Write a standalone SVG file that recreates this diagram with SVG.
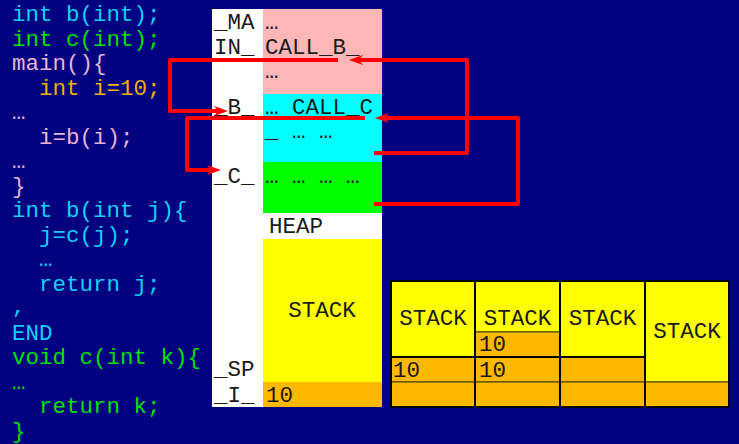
<svg xmlns="http://www.w3.org/2000/svg" width="739" height="444" viewBox="0 0 739 444">
<defs>
<style>
.code{font-family:"Liberation Mono","Courier New",monospace;font-size:22.5px}
.cy{fill:#10D0F8}.gr{fill:#00E000}.pk{fill:#E8B4D4}.or{fill:#F0B000}
.mem{font-family:"Liberation Mono","Courier New",monospace;font-size:22.5px;fill:#1a1a1a}
.conn{fill:none;stroke:#FF0000;stroke-width:4;stroke-linejoin:round;marker-end:url(#ah)}
.cell{stroke:#3a3a10;stroke-width:1}
.yl{fill:#FFFF00}.og{fill:#FFB800}
.grid{stroke:#000;stroke-width:2;fill:none}
</style>
<marker id="ah" viewBox="0 0 14 10" refX="4" refY="5" markerWidth="14" markerHeight="10" markerUnits="userSpaceOnUse" orient="auto">
<path d="M0,0 L14,5 L0,10 L4,5 z" fill="#FF0000"/>
</marker>
</defs>
<rect x="0" y="0" width="739" height="444" fill="#000080"/>

<g id="code" class="code">
<text x="12" y="21" class="cy">int b(int);</text>
<text x="12" y="45.5" class="gr">int c(int);</text>
<text x="12" y="70" class="pk">main(){</text>
<text x="39" y="94.5" class="or">int i=10;</text>
<text x="12" y="119" class="pk">…</text>
<text x="39" y="143.5" class="pk">i=b(i);</text>
<text x="12" y="168" class="pk">…</text>
<text x="12" y="192.5" class="pk">}</text>
<text x="12" y="217" class="cy">int b(int j){</text>
<text x="39" y="241.5" class="cy">j=c(j);</text>
<text x="39" y="266" class="cy">…</text>
<text x="39" y="290.5" class="cy">return j;</text>
<text x="12" y="313" class="cy">,</text>
<text x="12" y="339.5" class="cy">END</text>
<text x="12" y="364" class="gr">void c(int k){</text>
<text x="12" y="388.5" class="gr">…</text>
<text x="39" y="413" class="gr">return k;</text>
<text x="12" y="437.5" class="gr">}</text>
</g>

<g id="memory">
<rect x="212" y="9" width="170" height="398" fill="#FFFFFF"/>
<g id="main-seg">
<rect x="263" y="9" width="119" height="85" fill="#FFB6B6"/>
<text class="mem" x="214" y="29">_MA</text>
<text class="mem" x="214" y="53.5">IN_</text>
<text class="mem" x="265" y="29">…</text>
<text class="mem" x="265" y="53.5">CALL_B_</text>
<text class="mem" x="265" y="78">…</text>
</g>
<g id="b-seg">
<rect x="263" y="94" width="119" height="68" fill="#00FFFF"/>
<text class="mem" x="214" y="114">_B_</text>
<text class="mem" x="265" y="114">… CALL_C</text>
<text class="mem" x="265" y="138">_ … …</text>
</g>
<g id="c-seg">
<rect x="263" y="162" width="119" height="51" fill="#00FF00"/>
<text class="mem" x="214" y="183">_C_</text>
<text class="mem" x="265" y="183">… … … …</text>
</g>
<g id="heap">
<text class="mem" x="269" y="233">HEAP</text>
</g>
<g id="stack">
<rect x="263" y="239" width="119" height="143" fill="#FFFF00"/>
<text class="mem" x="322" y="317" text-anchor="middle">STACK</text>
<text class="mem" x="214" y="376">_SP</text>
</g>
<g id="i-var">
<rect x="263" y="382" width="119" height="25" fill="#FFB800"/>
<text class="mem" x="214" y="402">_I_</text>
<text class="mem" x="266" y="402">10</text>
</g>
</g>

<g id="connectors">
<path class="conn" d="M338 60 H170 V111 H218"/>
<path class="conn" d="M365 118 H187 V170 H211"/>
<path class="conn" d="M374 153 H467 V60 H359"/>
<path class="conn" d="M374 204 H518 V118 H385"/>
</g>

<g id="stack-states">
<g id="state1">
<rect class="cell yl" x="391" y="281" width="84" height="76"/>
<rect class="cell og" x="391" y="357" width="84" height="25"/>
<rect class="cell og" x="391" y="382" width="84" height="25"/>
<text class="mem" x="433" y="325" text-anchor="middle">STACK</text>
<text class="mem" x="393" y="377">10</text>
</g>
<g id="state2">
<rect class="cell yl" x="475" y="281" width="85" height="51"/>
<rect class="cell og" x="475" y="332" width="85" height="25"/>
<rect class="cell og" x="475" y="357" width="85" height="25"/>
<rect class="cell og" x="475" y="382" width="85" height="25"/>
<text class="mem" x="517.5" y="325" text-anchor="middle">STACK</text>
<text class="mem" x="479" y="351">10</text>
<text class="mem" x="479" y="377">10</text>
</g>
<g id="state3">
<rect class="cell yl" x="560" y="281" width="85" height="76"/>
<rect class="cell og" x="560" y="357" width="85" height="25"/>
<rect class="cell og" x="560" y="382" width="85" height="25"/>
<text class="mem" x="602.5" y="325" text-anchor="middle">STACK</text>
</g>
<g id="state4">
<rect class="cell yl" x="645" y="281" width="84" height="101"/>
<rect class="cell og" x="645" y="382" width="84" height="25"/>
<text class="mem" x="687" y="338" text-anchor="middle">STACK</text>
</g>
<path class="grid" d="M391 281 H729 V407 H391 Z M475 281 V407 M560 281 V407 M645 281 V407 M391 357 H645"/>
</g>
</svg>
